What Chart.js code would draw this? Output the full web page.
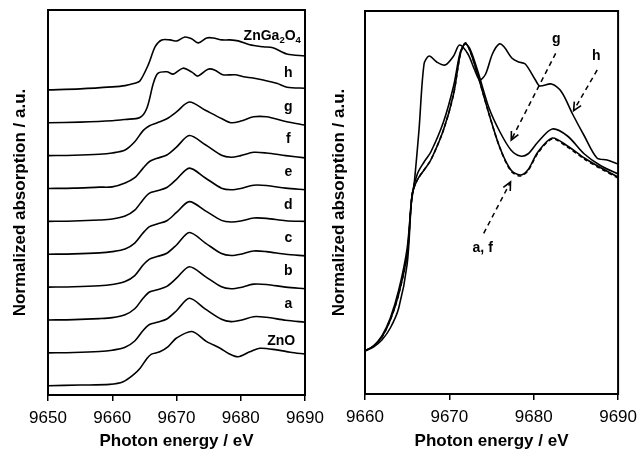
<!DOCTYPE html>
<html>
<head>
<meta charset="utf-8">
<script src="https://cdn.jsdelivr.net/npm/chart.js@4.4.0/dist/chart.umd.min.js"></script>
<style>
  body { margin: 0; background: #fff; }
  #wrap { position: relative; width: 644px; height: 449px; overflow: hidden; }
  canvas { position: absolute; top: 0; }
</style>
</head>
<body>
<div id="wrap">
  <canvas id="left" width="345" height="449" style="left:0"></canvas>
  <canvas id="right" width="322" height="449" style="left:322px"></canvas>
</div>
<script>
const FONT = "'Liberation Sans', Arial, Helvetica, sans-serif";

// ---- left panel: stacked spectra (normalized, offset by 1 each) ----
const xTicksLeft = [9650, 9660, 9670, 9680, 9690];

const eZnO = [9650, 9655, 9659.6, 9661.7, 9663.4, 9664.3, 9665.4, 9666.1, 9667.4, 9668.7, 9670, 9672.4, 9674.7, 9676.8, 9678.1, 9679.6, 9681.4, 9683, 9685.6, 9687.7, 9690];
const vZnO = [0, 0.02, 0.04, 0.12, 0.35, 0.52, 0.83, 0.96, 1.03, 1.19, 1.45, 1.65, 1.34, 1.14, 0.98, 0.88, 1.03, 1.14, 1.09, 1.02, 0.96];

// samples a-g share one energy grid
const eMid = [9650, 9654, 9658, 9660, 9662, 9663.5, 9664.8, 9665.8, 9667, 9668.5, 9670, 9672, 9674.5, 9677, 9678.5, 9680, 9682, 9684, 9687, 9690];
const vA = [0, 0.01, 0.04, 0.08, 0.17, 0.36, 0.68, 0.86, 0.93, 1.03, 1.28, 1.66, 1.33, 1.02, 0.95, 0.99, 1.10, 1.08, 0.99, 0.93];
const vB = [0, 0.01, 0.04, 0.07, 0.16, 0.34, 0.66, 0.85, 0.92, 1.02, 1.27, 1.62, 1.32, 1.01, 0.95, 0.99, 1.09, 1.08, 1.00, 0.95];
const vC = [0, 0.01, 0.04, 0.08, 0.17, 0.35, 0.67, 0.85, 0.93, 1.03, 1.28, 1.66, 1.34, 1.02, 0.96, 1.00, 1.10, 1.08, 1.00, 0.95];
const vD = [0, 0.01, 0.04, 0.08, 0.16, 0.34, 0.65, 0.84, 0.92, 1.02, 1.27, 1.60, 1.32, 1.03, 0.98, 1.01, 1.10, 1.09, 1.02, 1.00];
const vE = [0, 0.01, 0.04, 0.07, 0.16, 0.34, 0.66, 0.86, 0.93, 1.03, 1.28, 1.62, 1.32, 1.01, 0.96, 1.00, 1.10, 1.09, 1.01, 0.96];
const vF = [0, 0.01, 0.04, 0.05, 0.17, 0.33, 0.62, 0.82, 0.92, 1.02, 1.26, 1.61, 1.33, 1.01, 0.95, 1.00, 1.10, 1.08, 1.00, 0.93];
const vG = [0, 0.01, 0.04, 0.08, 0.17, 0.42, 0.76, 0.91, 1.00, 1.12, 1.33, 1.63, 1.38, 1.13, 1.00, 1.05, 1.18, 1.18, 1.04, 0.93];

const eH = [9650, 9655, 9660, 9662, 9664.3, 9665.4, 9666.4, 9667.1, 9668.5, 9669.5, 9671, 9672.4, 9673.3, 9674.9, 9676, 9677.2, 9679.1, 9680.4, 9681.9, 9683.5, 9685.6, 9687.2, 9690];
const vH = [0, 0.02, 0.06, 0.10, 0.16, 0.45, 1.20, 1.50, 1.55, 1.48, 1.66, 1.54, 1.42, 1.63, 1.60, 1.46, 1.46, 1.40, 1.36, 1.30, 1.20, 1.08, 1.05];

const eSp = [9650, 9655, 9660, 9662, 9663.5, 9664.3, 9665.6, 9666.7, 9667.7, 9669, 9670.1, 9671.3, 9672.4, 9673.4, 9674.7, 9675.7, 9677.1, 9678.3, 9679.6, 9681.4, 9683.5, 9685, 9687.2, 9690];
const vSp = [0, 0.03, 0.09, 0.13, 0.20, 0.27, 0.76, 1.32, 1.52, 1.52, 1.49, 1.61, 1.55, 1.43, 1.58, 1.58, 1.52, 1.52, 1.49, 1.37, 1.31, 1.28, 1.09, 1.03];

const stackNames = ['ZnO', 'a', 'b', 'c', 'd', 'e', 'f', 'g', 'h', 'ZnGa_2O_4'];
const stackOffsets = [0, 1, 2, 3, 4, 5, 6, 7, 8, 9];
const stackE = [eZnO, eMid, eMid, eMid, eMid, eMid, eMid, eMid, eH, eSp];
const stackV = [vZnO, vA, vB, vC, vD, vE, vF, vG, vH, vSp];
// where each name sits (energy, height above its own baseline)
const tagE = [9686.3, 9687.4, 9687.4, 9687.4, 9687.4, 9687.4, 9687.4, 9687.4, 9687.4, 9684.9];
const tagLift = [1.24, 1.37, 1.37, 1.37, 1.37, 1.37, 1.37, 1.37, 1.40, 1.52];

// ---- right panel: overlay ----
const xTicksRight = [9660, 9670, 9680, 9690];
const eR = [9660, 9661, 9662, 9663, 9664, 9665, 9665.6, 9666.2, 9667, 9667.8, 9669.3, 9670.5, 9671.3, 9671.9, 9672.5, 9673.4, 9674.7, 9676, 9677.3, 9678.4, 9679.3, 9680.5, 9682.2, 9684, 9686, 9688, 9690];
const rA = [0.015, 0.04, 0.085, 0.17, 0.30, 0.50, 0.80, 0.87, 0.92, 0.97, 1.12, 1.30, 1.50, 1.555, 1.51, 1.39, 1.20, 1.03, 0.92, 0.895, 0.92, 1.01, 1.08, 1.04, 0.98, 0.93, 0.885];
const rF = [0.015, 0.04, 0.085, 0.17, 0.30, 0.50, 0.80, 0.87, 0.92, 0.97, 1.12, 1.30, 1.50, 1.555, 1.51, 1.39, 1.20, 1.03, 0.915, 0.89, 0.915, 1.005, 1.075, 1.035, 0.975, 0.925, 0.88];
const rG = [0.015, 0.04, 0.09, 0.18, 0.32, 0.53, 0.80, 0.90, 0.96, 1.01, 1.16, 1.34, 1.51, 1.55, 1.52, 1.41, 1.23, 1.11, 1.02, 0.99, 1.00, 1.06, 1.125, 1.09, 1.00, 0.94, 0.90];
const eRH = [9660, 9661, 9662, 9663, 9664, 9665, 9665.5, 9665.8, 9666.4, 9667, 9667.6, 9668.5, 9669.5, 9670.5, 9671.2, 9672.2, 9673, 9673.6, 9674.3, 9675.1, 9675.9, 9676.5, 9677.4, 9678.2, 9679, 9680.2, 9680.7, 9682.1, 9683.3, 9684.6, 9686, 9687.5, 9688.7, 9690];
const rH = [0.015, 0.035, 0.07, 0.13, 0.23, 0.45, 0.76, 0.84, 1.12, 1.45, 1.49, 1.46, 1.445, 1.49, 1.545, 1.50, 1.42, 1.37, 1.40, 1.50, 1.55, 1.535, 1.48, 1.46, 1.45, 1.37, 1.34, 1.35, 1.31, 1.20, 1.09, 0.98, 0.97, 0.95];

// right panel annotations: [label, labelE, labelV, fromE, fromV, toE, toV]
const callouts = [
  ['g', 9682.67, 1.553, 9682.6, 1.503, 9677.33, 1.07],
  ['h', 9687.4, 1.47, 9687.52, 1.42, 9684.73, 1.217],
  ['a, f', 9673.95, 0.51, 9674.07, 0.603, 9677.25, 0.86]
];

function pts(xs, ys, off) {
  return xs.map((x, i) => ({x: x, y: ys[i] + (off || 0)}));
}

function drawRich(ctx, text, cx, by, size) {
  // digits after "_" are drawn as subscripts
  const parts = text.split(/(_\d)/).filter(Boolean).map(p =>
    p[0] === '_' ? {t: p.slice(1), sub: true} : {t: p, sub: false});
  const big = 'bold ' + size + 'px ' + FONT;
  const small = 'bold ' + (size * 0.68).toFixed(1) + 'px ' + FONT;
  let w = 0;
  parts.forEach(p => { ctx.font = p.sub ? small : big; p.w = ctx.measureText(p.t).width; w += p.w; });
  let x = cx - w / 2;
  ctx.textAlign = 'left';
  ctx.textBaseline = 'alphabetic';
  parts.forEach(p => {
    ctx.font = p.sub ? small : big;
    ctx.fillText(p.t, x, by + (p.sub ? size * 0.2 : 0));
    x += p.w;
  });
}

const extras = {
  id: 'extras',
  afterDatasetsDraw(chart, args, o) {
    const {ctx, chartArea: a, scales: {x, y}} = chart;
    ctx.save();
    ctx.strokeStyle = '#000';
    ctx.fillStyle = '#000';
    ctx.lineWidth = 2;
    ctx.strokeRect(a.left, a.top, a.right - a.left, a.bottom - a.top);
    (o.tags || []).forEach(t => drawRich(ctx, t[0], x.getPixelForValue(t[1]), y.getPixelForValue(t[2]), 14));
    (o.arrows || []).forEach(c => {
      const x0 = x.getPixelForValue(c[3]), y0 = y.getPixelForValue(c[4]);
      const x1 = x.getPixelForValue(c[5]), y1 = y.getPixelForValue(c[6]);
      ctx.lineWidth = 1.5;
      ctx.setLineDash([5, 4]);
      ctx.beginPath(); ctx.moveTo(x0, y0); ctx.lineTo(x1, y1); ctx.stroke();
      ctx.setLineDash([]);
      const ang = Math.atan2(y1 - y0, x1 - x0);
      ctx.lineWidth = 1.6;
      ctx.beginPath();
      ctx.moveTo(x1 - 9 * Math.cos(ang - 0.45), y1 - 9 * Math.sin(ang - 0.45));
      ctx.lineTo(x1, y1);
      ctx.lineTo(x1 - 9 * Math.cos(ang + 0.45), y1 - 9 * Math.sin(ang + 0.45));
      ctx.stroke();
    });
    ctx.restore();
  }
};

function lineSet(data, dash) {
  return {
    data: data, borderColor: '#000', borderWidth: 1.6, pointRadius: 0,
    tension: 0.3, fill: false, borderDash: dash || []
  };
}

function scalesFor(xmin, xmax, ticks, ymin, ymax, yWidth, xHeight, titlePad) {
  return {
    x: {
      type: 'linear', min: xmin, max: xmax,
      afterBuildTicks(s) { s.ticks = ticks.map(v => ({value: v})); },
      ticks: { color: '#000', font: {family: FONT, size: 17}, padding: 7, maxRotation: 0, autoSkip: false,
        callback: v => String(v) },
      grid: { drawOnChartArea: false, drawTicks: true, tickLength: 6, color: '#000', lineWidth: 1.5 },
      border: { display: false },
      title: { display: true, text: 'Photon energy / eV', color: '#000',
        font: {family: FONT, size: 17, weight: 'bold'}, padding: {top: 0, bottom: -3} },
      afterFit(s) { s.height = xHeight; }
    },
    y: {
      min: ymin, max: ymax,
      ticks: { display: false },
      grid: { display: false },
      border: { display: false },
      title: { display: true, text: 'Normalized absorption / a.u.', color: '#000',
        font: {family: FONT, size: 17, weight: 'bold'}, padding: {top: titlePad, bottom: 0} },
      afterFit(s) { s.width = yWidth; }
    }
  };
}

const common = {
  responsive: false, animation: false, events: [],
  plugins: { legend: {display: false}, tooltip: {enabled: false} }
};

new Chart(document.getElementById('left'), {
  type: 'line',
  data: { datasets: stackNames.map((n, i) => lineSet(pts(stackE[i], stackV[i], stackOffsets[i]))) },
  options: Object.assign({}, common, {
    layout: { padding: {top: 10, right: 40, left: 0, bottom: 0} },
    scales: scalesFor(9650, 9690, xTicksLeft, -0.283, 11.43, 48, 54, 10),
    plugins: Object.assign({}, common.plugins, {
      extras: { tags: stackNames.map((n, i) => [n, tagE[i], stackOffsets[i] + tagLift[i]]) }
    })
  }),
  plugins: [extras]
});

new Chart(document.getElementById('right'), {
  type: 'line',
  data: { datasets: [
    lineSet(pts(eR, rA)),
    lineSet(pts(eR, rF), [4, 3]),
    lineSet(pts(eR, rG)),
    lineSet(pts(eRH, rH))
  ] },
  options: Object.assign({}, common, {
    layout: { padding: {top: 11, right: 21, left: 0, bottom: 0} },
    scales: scalesFor(9660, 9690, xTicksRight, -0.2, 1.715, 43, 55, 7),
    plugins: Object.assign({}, common.plugins, {
      extras: { tags: callouts.map(c => [c[0], c[1], c[2]]), arrows: callouts }
    })
  }),
  plugins: [extras]
});
</script>
</body>
</html>
